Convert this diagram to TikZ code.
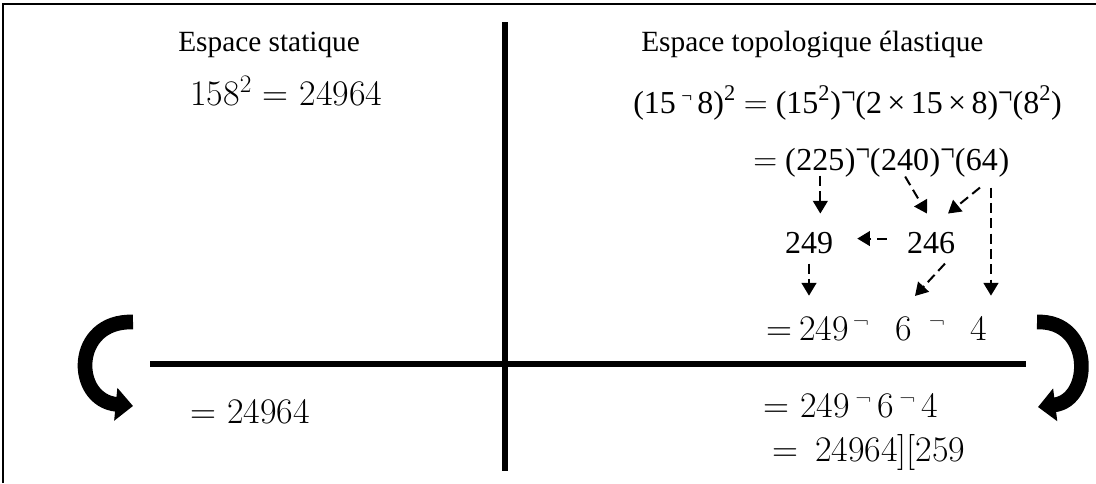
\documentclass[tikz,border=0pt]{standalone}
\usepackage{fontspec}
\setmainfont{Liberation Serif}
\newfontfamily\camfont{Latin Modern Roman}
\usepackage{graphicx}
\usetikzlibrary{arrows.meta,calc,positioning}

\newcommand{\tneg}{\raisebox{0.33em}{\scalebox{0.6}{¬}}}
\newcommand{\tnegbig}{\raisebox{0.28em}{\scalebox{0.8}[1.1]{¬}}}

\tikzset{
  titletext/.style={font=\fontsize{22}{26}\selectfont, inner sep=0pt},
  tms/.style={font=\fontsize{24}{28}\selectfont, inner sep=0pt},
  cam/.style={font=\camfont\fontsize{27}{32}\selectfont, inner sep=0pt},
  dasharrow/.style={dash pattern=on 7.5pt off 4pt, line width=1.5pt, -{Triangle[length=9.5pt,width=11pt]}},
  bigarrow/.style={line width=11pt, -{Triangle[length=13pt,width=24pt]}},
  axisline/.style={line width=4.5pt},
}

\begin{document}
\begin{tikzpicture}[x=0.75pt, y=-0.75pt]
    \useasboundingbox (0,0) rectangle (1096,483);
    % frame
    \draw[line width=1.1pt] (3,483) -- (3,4) -- (1096,4);
    % axes
    \draw[axisline] (505,22) -- (505,471);
    \draw[axisline] (150,364) -- (1026,364);

    % static space
    \node[titletext, anchor=base west] (tstat) at (178,51) {Espace statique};
    \node[cam, anchor=base west] (sq) at (190,105) {158\textsuperscript{2} = 24964};
    \node[cam, anchor=base west] (resl) at (190,423) {= 24964};

    % elastic space
    \node[titletext, anchor=base west] (ttop) at (641,51) {Espace topologique élastique};
    \node[tms, anchor=base west] (expand) at (633,113) {(15\,\tneg\,8)\textsuperscript{2} $=$ (15\textsuperscript{2})\tnegbig(2\,×\,15\,×\,8)\tnegbig(8\textsuperscript{2})};

    \node[tms, anchor=base west] (eqa) at (753,170) {$=$ (};
    \node[tms, anchor=base west] (n225) at (eqa.base east) {225};
    \node[tms, anchor=base west] (pa) at (n225.base east) {)\tnegbig(};
    \node[tms, anchor=base west] (n240) at (pa.base east) {240};
    \node[tms, anchor=base west] (pb) at (n240.base east) {)\tnegbig(};
    \node[tms, anchor=base west] (n64) at (pb.base east) {64};
    \node[tms, anchor=base west] (pc) at (n64.base east) {)};

    \node[tms, anchor=base] (r249) at (809,253) {249};
    \node[tms, anchor=base] (r246) at (931,253) {246};

    \node[cam, anchor=base] (beq) at (779,340) {=};
    \node[cam, anchor=base] (b249) at (824,340) {249};
    \node[cam, anchor=base] (bn1) at (861,340) {\tneg};
    \node[cam, anchor=base] (b6) at (904,340) {6};
    \node[cam, anchor=base] (bn2) at (937,340) {\tneg};
    \node[cam, anchor=base] (b4) at (979,340) {4};

    \node[cam, anchor=base west] (resa) at (763,417) {= 249\,\tneg\,6\,\tneg\,4};
    \node[cam, anchor=base west] (resb) at (772,461) {=\, 24964][259};

    % dashed carries
    \coordinate (c4) at ($(n64.south)+(9,0)$);
    \draw[dasharrow] ($(n225.south)+(0,5)$) -- ($(n225.south |- r249.north)+(0,-18)$);
    \draw[dasharrow] ($(n240.south)+(0,6)$) -- ($(r246.north)+(-4,-18)$);
    \draw[dasharrow] ($(n64.south)+(-2,17)$) -- ($(r246.north)+(17,-18)$);
    \draw[dasharrow] ($(c4)+(0,17)$) -- ($(c4 |- b4.north)+(0,-20)$);
    \draw[dasharrow] ($(r246.west)+(-20,-4)$) -- ($(r249.east)+(24,-4)$);
    \draw[dasharrow] ($(r249.south)+(0,10)$) -- ($(r249.south |- b249.north)+(0,-20)$);
    \draw[dasharrow] ($(r246.south)+(14,10)$) -- ($(b6.north)+(11,-20)$);

    % turning arrows
    \draw[bigarrow] (133,322) .. controls (72,320) and (72,400) .. (133,406);
    \draw[bigarrow] (1037,322) .. controls (1093,320) and (1093,400) .. (1038,407);
\end{tikzpicture}
\end{document}
